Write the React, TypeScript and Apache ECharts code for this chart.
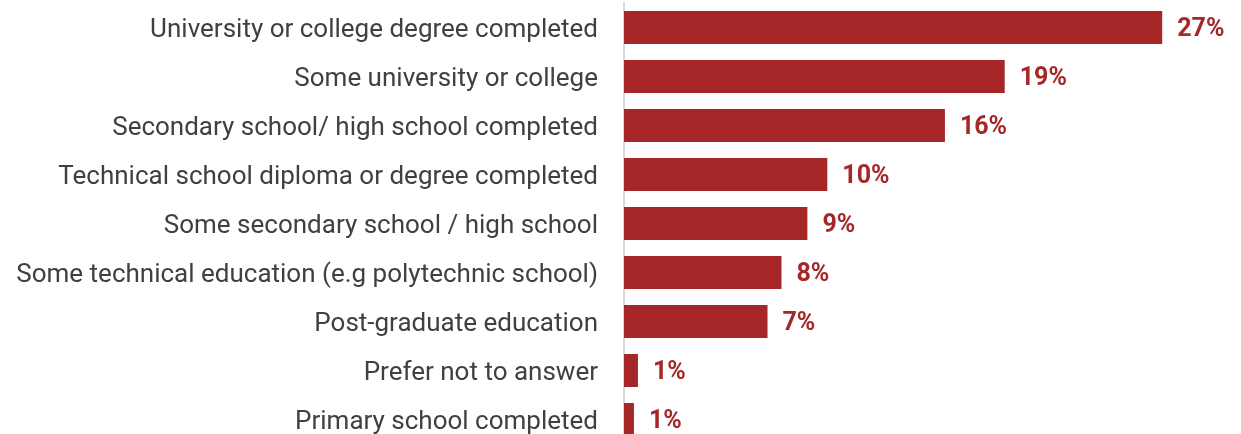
import React, { useEffect, useRef } from "react";
import * as echarts from "echarts";

const categories = [
  "University or college degree completed",
  "Some university or college",
  "Secondary school/ high school completed",
  "Technical school diploma or degree completed",
  "Some secondary school / high school",
  "Some technical education (e.g polytechnic school)",
  "Post-graduate education",
  "Prefer not to answer",
  "Primary school completed",
];
const values = [27, 19.1, 16.1, 10.2, 9.2, 7.9, 7.2, 0.7, 0.5];
const valueLabels = ["27%", "19%", "16%", "10%", "9%", "8%", "7%", "1%", "1%"];

export default function App() {
  const ref = useRef<HTMLDivElement>(null);
  useEffect(() => {
    const chart = echarts.init(ref.current!, null, { renderer: "svg" });
    chart.setOption({
      animation: false,
      grid: { left: 624, right: 19, top: 3, bottom: 0, containLabel: false },
      xAxis: {
        type: "value",
        min: 0,
        max: 30,
        show: false,
      },
      yAxis: {
        type: "category",
        data: categories,
        inverse: true,
        axisLine: { show: true, lineStyle: { color: "#d9d9d9", width: 2 } },
        axisTick: { show: false },
        axisLabel: {
          margin: 26,
          fontFamily: "Roboto",
          fontSize: 26,
          color: "#404040",
        },
      },
      series: [
        {
          type: "bar",
          data: values,
          barWidth: 33,
          itemStyle: { color: "#A62728" },
          label: {
            show: true,
            position: "right",
            distance: 15,
            fontFamily: "Roboto",
            fontWeight: "bold",
            fontSize: 25,
            color: "#A62728",
            formatter: (p: any) => valueLabels[p.dataIndex],
          },
        },
      ],
    });
    return () => chart.dispose();
  }, []);
  return (
    <div
      ref={ref}
      style={{ position: "fixed", left: 0, top: 0, width: 1241, height: 444 }}
    />
  );
}
